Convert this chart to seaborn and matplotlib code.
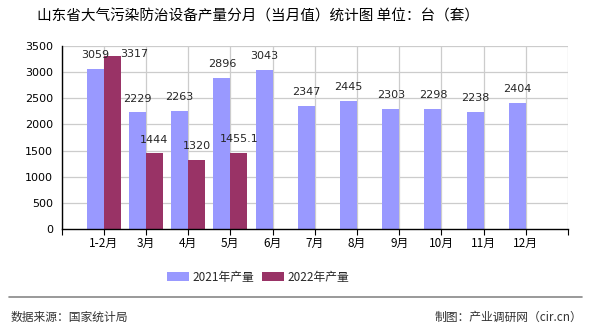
import matplotlib
matplotlib.use("Agg")
import matplotlib.pyplot as plt
import seaborn as sns
import pandas as pd
import numpy as np
from matplotlib.lines import Line2D
from matplotlib.patches import Patch

categories = ["1-2月", "3月", "4月", "5月", "6月", "7月", "8月", "9月", "10月", "11月", "12月"]
values_2021 = [3059, 2229, 2263, 2896, 3043, 2347, 2445, 2303, 2298, 2238, 2404]
values_2022 = [3317, 1444, 1320, 1455.1, None, None, None, None, None, None, None]
labels_2022 = ["3317", "1444", "1320", "1455.1"]
series_names = ["2021年产量", "2022年产量"]
colors = ["#9999FF", "#993366"]
yticks = [0, 500, 1000, 1500, 2000, 2500, 3000, 3500]

rows = []
for c, v in zip(categories, values_2021):
    rows.append({"月份": c, "系列": series_names[0], "值": v})
for c, v in zip(categories, values_2022):
    rows.append({"月份": c, "系列": series_names[1], "值": np.nan if v is None else v})
df = pd.DataFrame(rows)

sns.set_theme(style="white")
plt.rcParams["font.family"] = ["Noto Sans CJK SC", "DejaVu Sans"]

fig = plt.figure(figsize=(5.9, 3.3), dpi=100)
ax = fig.add_axes([61.5 / 590, 101 / 330, (568 - 61.5) / 590, (229 - 46) / 330])

sns.barplot(data=df, x="月份", y="值", hue="系列", order=categories,
            hue_order=series_names, palette=colors, width=0.8, saturation=1,
            ax=ax, legend=False, errorbar=None)
for p in ax.patches:
    p.set_edgecolor("none")

ax.set_xlim(-1, len(categories))
ax.set_ylim(0, 3500)
ax.set_yticks(yticks)
ax.set_yticklabels([str(t) for t in yticks], fontsize=8, family="DejaVu Sans")
ax.set_xticks(range(len(categories)))
ax.set_xticklabels(categories, fontsize=8.5)
ax.set_xlabel("")
ax.set_ylabel("")

# grid lines
for t in yticks[1:]:
    ax.axhline(t, color="#cccccc", lw=0.9, zorder=0)
for x in list(range(-1, len(categories) + 1)):
    ax.axvline(x, color="#cccccc", lw=0.9, zorder=0)
ax.set_axisbelow(True)

for side in ["top", "right"]:
    ax.spines[side].set_visible(False)
ax.spines["left"].set_color("black")
ax.spines["bottom"].set_color("black")
ax.spines["left"].set_linewidth(1)
ax.spines["bottom"].set_linewidth(1)
ax.tick_params(axis="both", which="both", direction="out", length=4, width=0.8,
               color="black", labelcolor="black", pad=2)
ax.tick_params(axis="x", left=True, bottom=True)
ax.set_xticks([-1, len(categories)], minor=True)
ax.tick_params(axis="x", which="minor", length=4, width=0.8, color="black", bottom=True)

# value labels
for i, v in enumerate(values_2021):
    ax.annotate(str(v), (i - 0.2, v), xytext=(0, 10), textcoords="offset points",
                ha="center", va="center", fontsize=8, family="DejaVu Sans")
for i, v in enumerate(values_2022):
    if v is None:
        continue
    off = (16, 1) if i == 0 else (0, 10)
    ax.annotate(labels_2022[i], (i + 0.2, v), xytext=off, textcoords="offset points",
                ha="center", va="center", fontsize=8, family="DejaVu Sans")

fig.text(258 / 590, 1 - 17 / 330, "山东省大气污染防治设备产量分月（当月值）统计图 单位：台（套）",
         ha="center", va="center", fontsize=10.5, color="black")

handles = [Patch(facecolor=colors[0], edgecolor="none"),
           Patch(facecolor=colors[1], edgecolor="none")]
fig.legend(handles, series_names, loc="center", bbox_to_anchor=(258 / 590, 1 - 277 / 330),
           ncol=2, frameon=False, fontsize=8.5, handlelength=1.9, handleheight=0.8,
           columnspacing=0.6, handletextpad=0.3)

fig.add_artist(Line2D([9 / 590, 582 / 590], [1 - 297 / 330, 1 - 297 / 330],
                      color="#888888", lw=1.2, transform=fig.transFigure))
fig.text(11 / 590, 1 - 317 / 330, "数据来源：国家统计局", ha="left", va="center",
         fontsize=8.5, color="#333333")
fig.text(582 / 590, 1 - 317 / 330, "制图：产业调研网（cir.cn）", ha="right", va="center",
         fontsize=8.5, color="#333333")

fig.savefig("out.png", dpi=100)
